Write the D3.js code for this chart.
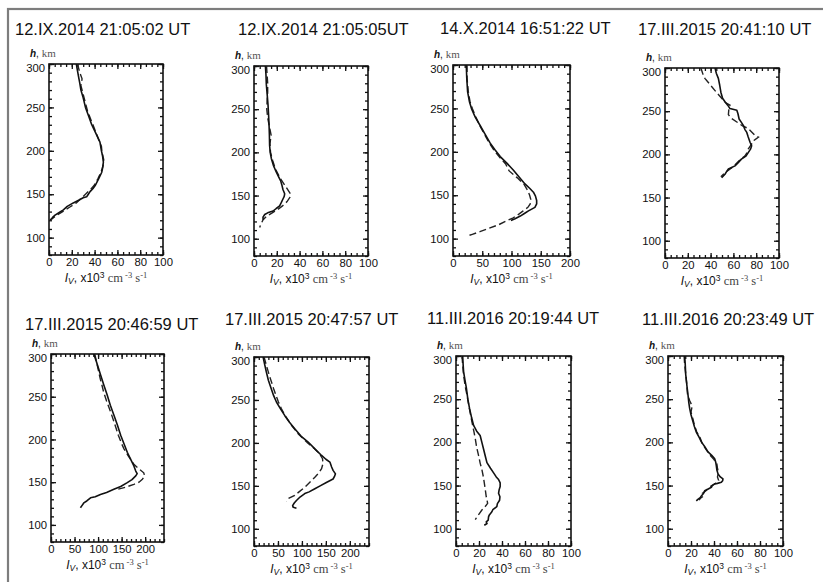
<!DOCTYPE html>
<html>
<head>
<meta charset="utf-8">
<script src="https://cdn.jsdelivr.net/npm/d3@7"></script>
<style>
  body { margin: 0; background: #fff; }
  svg { display: block; }
</style>
</head>
<body>
<svg id="fig" width="823" height="582"></svg>
<script>
// ---- Panel titles and axes ----
const titles = [
  "12.IX.2014 21:05:02 UT",
  "12.IX.2014 21:05:05UT",
  "14.X.2014 16:51:22 UT",
  "17.III.2015 20:41:10 UT",
  "17.III.2015 20:46:59 UT",
  "17.III.2015 20:47:57 UT",
  "11.III.2016 20:19:44 UT",
  "11.III.2016 20:23:49 UT"
];
const xMax = [100, 100, 200, 100, 240, 240, 100, 100];
const xTickLabels = [
  [0, 20, 40, 60, 80, 100],
  [0, 20, 40, 60, 80, 100],
  [0, 50, 100, 150, 200],
  [0, 20, 40, 60, 80, 100],
  [0, 50, 100, 150, 200],
  [0, 50, 100, 150, 200],
  [0, 20, 40, 60, 80, 100],
  [0, 20, 40, 60, 80, 100]
];
const xMinorStep = [5, 5, 10, 5, 10, 10, 5, 5];
const hDomain = [80, 300];
const hTickLabels = [100, 150, 200, 250, 300];

// ---- Emission profiles: height h (km) and I_V (10^3 cm^-3 s^-1) ----
// solid = measured, dashed = second profile
const p1SolidH = [300,292,285,278,270,261,250,241,230,222,210,200,194,187,180,175,167,160,157,153,150,147,146,143,140,136,132,129,126,123,120];
const p1SolidI = [24,25,26,27,28,30,32,34.5,37.5,40.4,44.7,46,47,47.7,47,46.2,43.3,40.5,38.9,36,34.5,33,30,26,21.3,16,12.6,9,5.3,3,0.9];
const p1DashH  = [300,290,283,275,265,255,245,235,225,215,205,198,190,183,175,168,160,155,150,145,140,135,130,125,121];
const p1DashI  = [25,27,29,28,30,32,34,37,40,43,46,46.5,48,47.5,45.5,43,39.5,36,32,28,24,18,12,6,2];

const p2SolidH = [300,290,279,268,255,243,232,220,208,200,193,185,177,172,167,162,157,152,149,146,142,138,135,132,130,128,125,122];
const p2SolidI = [10,10.5,10.8,11.5,12.3,12.8,13.2,13.5,13.7,14.2,15.2,17,19.6,21.5,23.4,24.5,25.4,26.9,26.5,25.4,24,22.5,19.5,16.7,12,9.4,7.9,8];
const p2DashH  = [300,290,280,270,260,250,240,230,220,210,200,190,180,170,162,156,152,148,143,138,134,130,126,122,118,115,113];
const p2DashI  = [11,11.5,12,12,11.5,11.2,12,13.5,15,14,14.5,16.5,19,23,27,30,32,31.5,29,25,21,16,11,8,6.5,5.5,5];

const p3SolidH = [300,285,269,258,249,240,230,220,210,202,194.5,187,179,171,163,158,153.5,149,144,140,136,132,129,126,123,121];
const p3SolidI = [22.7,23.5,25,28,32,38,46.6,55,63.6,72,80.7,92,103,113,123,131,137.5,141,143,143,140,129,122,115,106,99];
const p3DashH  = [300,285,270,258,250,240,230,220,210,200,192,186,182,178,170,162,155,150,145,140,136,132,128,124,120,116,112,108,105,103];
const p3DashI  = [24,24,26,29,33,39,46,54,62,72,82,90,93,96,110,122,128,131,133,132,128,120,112,103,90,78,62,46,33,24];

const p4SolidH = [300,294,288,280,272,265,261,257,253,251,247,241,237,233.6,229,225.8,220,214,210,206,202,198,194.5,190,186.7,183,180,177,173];
const p4SolidI = [43.9,45,46.8,48,49,50.5,52.6,55,57,63,64,65,67,68.7,70,71.6,73,74.6,76,75,73,71,67,64,61.4,55.6,54,52.6,49.7];
const p4DashH  = [300,294,288,280,272,265,260,257,252,246,242,237.5,233,230,226,222,220,216,212,210,206,202,198,194,190,186,182,178,174];
const p4DashI  = [31.5,33,35,40,45,49.7,53,57,56,55.6,58,63,68,73,76,79,82,78,76,75,73,72,70,66,63,60,56,52,49];

const p5SolidH = [300,290,276,264,252.5,240,228.7,217,205,195,185,177,169,163,160,157.4,153,149.5,145,141.6,138,135.6,133,131.7,128,125.7,122,120];
const p5SolidI = [91,97,105,112,119,126,133.5,141,148,155,162,169,176,180,183,180,172,162,148,133.5,118,105,94,84,76,69.6,65,62.5];
const p5DashH  = [300,290,280,270,264,255,245,240.6,230,217,205,195,189,180,171,166,161,157,153.5,150,147.5,144,141.6];
const p5DashI  = [93,97,101,105,108,112,118,121,128,136,143,150,155,165,176,186,197,199,194,187,176,158,140.6];

const p6SolidH = [300,292,282.5,273,263,255,247.6,240,232,224,216.5,208,201,193,185.4,181,177.7,172,168,164,161,158,156,154,150,146.6,143,141,137,133,130,127,125,124];
const p6SolidI = [19,22,25.8,30,36,41,46.8,55,64,74,85,98,113,127,141,150,158.4,162,165,170,168,165,158,151,138,127,115,106,96,88.6,84,80.6,82,88.6];
const p6DashH  = [300,290,278.6,270,263,255,247.6,240,230,220,210,200,193,187,181.6,176,170,165,160,154,148.5,143,139,135,132];
const p6DashI  = [21,26,32,37,41,46,51,57,67,79,93,112,127,137,143,144,141,135,127,116,106,94,85,71,67.7];

const p7SolidH = [300,290,282,272,263,250,239,229,219.6,213,208,200,192,184,176.5,170,164.7,160,157,153,149,145,141,137,133,129,125.5,122,119.6,116,113.7,110,108,106,104];
const p7SolidI = [5.8,6.2,6.6,7.8,9,10.3,11.8,13.5,15.3,18,21,22.5,24,25.5,26.9,30,32.7,35,37,38.4,38.4,37.5,37,38.2,37.9,36,35.5,32,31.2,29,28.3,28,26.3,27,24.6];
const p7DashH  = [300,290,278,265,255,240,223.5,213,204,194,184.3,176,168.6,160,153,145,137,133,129.4,125,121.6,117,113.7,110.6];
const p7DashI  = [5.2,5.8,6.6,8,9.5,11.5,13.9,15.5,16.8,18,19.7,21,22.5,23.8,24.6,25.5,26.3,27,27.5,25,22.5,20,18.2,16.8];

const p8SolidH = [300,290,278.6,265,255,247,239.6,232,224,218,212,206,200.6,195,189,185,181,177,173,168,163.5,160,157.7,155.5,153.8,152.5,151.9,150,148,146,144,141,138,136,134,132.3];
const p8SolidI = [14.5,15,15.4,16.5,17.4,18,18.8,20,21.7,23,24.6,27,29,32,34.8,38,40.6,41.5,42,42.5,43.5,45.5,47.8,47.5,46.4,43,40.6,38.5,37.7,35,31.9,31,29,28,26,24.6];
const p8DashH  = [300,290,278,265,255,248,242,235,228,220,212,205,198,192,186,180,175,170,165,160,156,153,150,147,144,141,138,135,133];
const p8DashI  = [14,14.5,15.5,16.5,17,19,21,20,21.5,23,25,28,30,33,36,40,42.5,43,44,43,44,42,38,35,33,30,31,28,27];

const solidH = [p1SolidH, p2SolidH, p3SolidH, p4SolidH, p5SolidH, p6SolidH, p7SolidH, p8SolidH];
const solidI = [p1SolidI, p2SolidI, p3SolidI, p4SolidI, p5SolidI, p6SolidI, p7SolidI, p8SolidI];
const dashH  = [p1DashH, p2DashH, p3DashH, p4DashH, p5DashH, p6DashH, p7DashH, p8DashH];
const dashI  = [p1DashI, p2DashI, p3DashI, p4DashI, p5DashI, p6DashI, p7DashI, p8DashI];

// ---- Panel placement (plot box and title) ----
const layout = [
  { x: 49,  y: 64,  w: 114, h: 191, tx: 15,  ty: 35 },
  { x: 254, y: 66,  w: 114, h: 190, tx: 238, ty: 35 },
  { x: 453, y: 65,  w: 117, h: 191, tx: 440, ty: 34 },
  { x: 665, y: 68,  w: 114, h: 190, tx: 638, ty: 35 },
  { x: 51,  y: 354, w: 113, h: 188, tx: 25,  ty: 330 },
  { x: 254, y: 357, w: 115, h: 189, tx: 225, ty: 325 },
  { x: 456, y: 356, w: 115, h: 190, tx: 427, ty: 324 },
  { x: 668, y: 356, w: 115, h: 190, tx: 642, ty: 325 }
];

const SANS = "'Liberation Sans', Arial, Helvetica, sans-serif";
const SERIF = "'Liberation Serif', 'Times New Roman', serif";

const svg = d3.select("#fig");
svg.append("rect").attr("width", 823).attr("height", 582).attr("fill", "#fff");

// outer frame of the figure
svg.append("rect")
  .attr("x", 8).attr("y", 9).attr("width", 840).attr("height", 600)
  .attr("fill", "none").attr("stroke", "#7d7d7d").attr("stroke-width", 2.2);

layout.forEach((L, i) => {
  const x = d3.scaleLinear().domain([0, xMax[i]]).range([0, L.w]);
  const y = d3.scaleLinear().domain(hDomain).range([L.h, 0]);
  const g = svg.append("g").attr("transform", `translate(${L.x},${L.y})`);

  // title
  svg.append("text")
    .attr("x", L.tx).attr("y", L.ty)
    .attr("font-family", SANS).attr("font-size", 16.5).attr("fill", "#111")
    .text(titles[i]);

  const xMinor = d3.range(0, xMax[i] + 1e-9, xMinorStep[i]);
  const hMinor = d3.range(hDomain[0], hDomain[1] + 1e-9, 10);

  const styleAxis = sel => {
    sel.select(".domain").remove();
    sel.selectAll(".tick line").attr("stroke", "#111").attr("stroke-width", 1.3);
    sel.selectAll(".tick text")
      .attr("font-family", SANS).attr("font-size", 11.3).attr("fill", "#111")
      .attr("font-weight", 500);
  };

  // minor ticks on all four sides (inward)
  g.append("g").attr("transform", `translate(0,${L.h})`)
    .call(d3.axisBottom(x).tickValues(xMinor).tickSizeInner(-3).tickSizeOuter(0).tickFormat(""))
    .call(styleAxis);
  g.append("g")
    .call(d3.axisTop(x).tickValues(xMinor).tickSizeInner(-3).tickSizeOuter(0).tickFormat(""))
    .call(styleAxis);
  g.append("g")
    .call(d3.axisLeft(y).tickValues(hMinor).tickSizeInner(-3).tickSizeOuter(0).tickFormat(""))
    .call(styleAxis);
  g.append("g").attr("transform", `translate(${L.w},0)`)
    .call(d3.axisRight(y).tickValues(hMinor).tickSizeInner(-3).tickSizeOuter(0).tickFormat(""))
    .call(styleAxis);

  // major ticks with labels
  g.append("g").attr("transform", `translate(0,${L.h})`)
    .call(d3.axisBottom(x).tickValues(xTickLabels[i]).tickSizeInner(-5).tickSizeOuter(0).tickPadding(3).tickFormat(d3.format("d")))
    .call(styleAxis);
  const yAxisG = g.append("g")
    .call(d3.axisLeft(y).tickValues(hTickLabels).tickSizeInner(-5).tickSizeOuter(0).tickPadding(4).tickFormat(d3.format("d")))
    .call(styleAxis);
  // the topmost label sits just below the frame corner
  yAxisG.selectAll(".tick text").filter(d => d === hDomain[1]).attr("dy", "0.62em");
  g.append("g")
    .call(d3.axisTop(x).tickValues(xTickLabels[i]).tickSizeInner(-5).tickSizeOuter(0).tickFormat(""))
    .call(styleAxis);
  g.append("g").attr("transform", `translate(${L.w},0)`)
    .call(d3.axisRight(y).tickValues(hTickLabels).tickSizeInner(-5).tickSizeOuter(0).tickFormat(""))
    .call(styleAxis);

  // plot frame
  g.append("rect").attr("width", L.w).attr("height", L.h)
    .attr("fill", "none").attr("stroke", "#111").attr("stroke-width", 1.6);

  // profiles
  const clipId = `clip${i}`;
  g.append("clipPath").attr("id", clipId)
    .append("rect").attr("width", L.w).attr("height", L.h);
  const line = d3.line().x(d => x(d[1])).y(d => y(d[0]));
  const solidPts = d3.zip(solidH[i], solidI[i]);
  const dashPts = d3.zip(dashH[i], dashI[i]);
  g.append("path").datum(dashPts)
    .attr("clip-path", `url(#${clipId})`)
    .attr("d", line).attr("fill", "none").attr("stroke", "#222")
    .attr("stroke-width", 1.4).attr("stroke-dasharray", "7,3.5");
  g.append("path").datum(solidPts)
    .attr("clip-path", `url(#${clipId})`)
    .attr("d", line).attr("fill", "none").attr("stroke", "#111")
    .attr("stroke-width", 1.6).attr("stroke-linejoin", "round");

  // y-axis caption: h, km
  const yl = svg.append("text")
    .attr("x", L.x - 19).attr("y", L.y - 7)
    .attr("font-size", 10).attr("fill", "#111");
  yl.append("tspan").attr("font-family", SANS).attr("font-style", "italic").attr("font-weight", "bold").text("h");
  yl.append("tspan").attr("font-family", SANS).text(", ");
  yl.append("tspan").attr("font-family", SERIF).attr("fill", "#555").attr("font-size", 11).text("km");

  // x-axis caption: I_V, x10^3 cm^-3 s^-1
  const xl = svg.append("text")
    .attr("x", L.x + L.w / 2).attr("y", L.y + L.h + 26.5)
    .attr("text-anchor", "middle").attr("font-size", 12).attr("fill", "#111");
  xl.append("tspan").attr("font-family", SANS).attr("font-style", "italic").text("I");
  xl.append("tspan").attr("font-family", SANS).attr("font-style", "italic").attr("font-size", 8.5).attr("dy", 2).text("V");
  xl.append("tspan").attr("font-family", SANS).attr("dy", -2).text(", x10");
  xl.append("tspan").attr("font-family", SANS).attr("font-size", 8.5).attr("dy", -4).text("3");
  xl.append("tspan").attr("font-family", SERIF).attr("fill", "#444").attr("font-size", 12.5).attr("dy", 4).text(" cm");
  xl.append("tspan").attr("font-family", SERIF).attr("fill", "#444").attr("font-size", 8.5).attr("dy", -4).text(" -3");
  xl.append("tspan").attr("font-family", SERIF).attr("fill", "#444").attr("font-size", 12.5).attr("dy", 4).text(" s");
  xl.append("tspan").attr("font-family", SERIF).attr("fill", "#444").attr("font-size", 8.5).attr("dy", -4).text("-1");
});
</script>
</body>
</html>
